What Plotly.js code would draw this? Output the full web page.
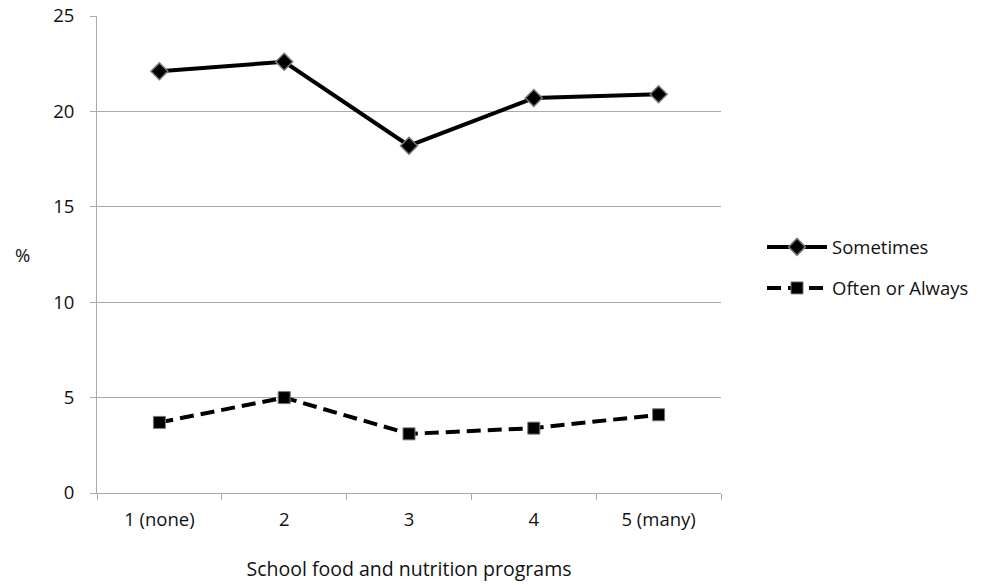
<!DOCTYPE html>
<html>
<head>
<meta charset="utf-8">
<script src="https://cdn.plot.ly/plotly-3.0.1.min.js"></script>
<style>html,body{margin:0;padding:0;background:#fff;}#chart{width:987px;height:585px;}</style>
</head>
<body>
<div id="chart"></div>
<script>
const categories = ["1 (none)", "2", "3", "4", "5 (many)"];
const sometimes = [22.1, 22.6, 18.2, 20.7, 20.9];
const oftenAlways = [3.7, 5.0, 3.1, 3.4, 4.1];
const yTicks = [0, 5, 10, 15, 20, 25];

const font = {family: "Open Sans, Noto Sans, sans-serif", size: 18.5, color: "#111"};
const titleFont = {family: "Open Sans, Noto Sans, sans-serif", size: 19.5, color: "#111"};

const traces = [
  {
    x: categories, y: sometimes, name: "Sometimes", type: "scatter", mode: "lines+markers",
    legendgroup: "a",
    line: {color: "#000", width: 4},
    marker: {symbol: "diamond", size: 13, color: "#000", line: {color: "#777", width: 1.5}}
  },
  {
    x: categories, y: oftenAlways, name: "Often or Always", type: "scatter", mode: "lines+markers",
    legendgroup: "b",
    line: {color: "#000", width: 4, dash: "14px,7px"},
    marker: {symbol: "square", size: 12, color: "#000", line: {color: "#777", width: 1}}
  }
];

const layout = {
  width: 987, height: 585,
  margin: {l: 97, r: 266, t: 16, b: 92},
  paper_bgcolor: "#fff", plot_bgcolor: "#fff",
  font: font,
  showlegend: true,
  legend: {x: 1 + (762 - 721) / 624, y: 0.472, xanchor: "left", yanchor: "middle", font: font, itemwidth: 60, tracegroupgap: 14},
  xaxis: {
    type: "category", range: [-0.5, 4.5], tickson: "boundaries", ticks: "outside", ticklen: 6, tickcolor: "#aaa",
    showline: true, linecolor: "#aaa", linewidth: 1, showgrid: false, zeroline: false,
    tickfont: font, ticklabelstandoff: 10,
    title: {text: "School food and nutrition programs", font: titleFont, standoff: 32}
  },
  yaxis: {
    range: [0, 25], tickvals: yTicks, ticks: "outside", ticklen: 6, tickcolor: "#aaa",
    showline: true, linecolor: "#aaa", linewidth: 1, showgrid: true, gridcolor: "#aaa", gridwidth: 1,
    zeroline: false, tickfont: font, ticklabelstandoff: 12
  },
  annotations: [
    {text: "%", xref: "paper", yref: "paper", x: -0.12, y: 0.5, xanchor: "center", yanchor: "middle", showarrow: false, font: font}
  ]
};

Plotly.newPlot("chart", traces, layout, {displayModeBar: false, staticPlot: true});
</script>
</body>
</html>
